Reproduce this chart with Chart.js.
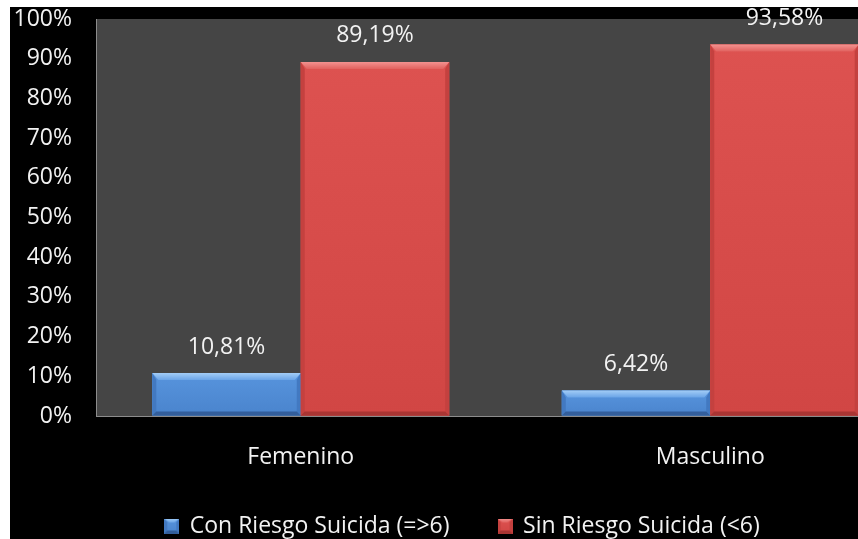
<!DOCTYPE html>
<html lang="es">
<head>
<meta charset="utf-8">
<title>Riesgo suicida por sexo</title>
<script src="https://cdn.jsdelivr.net/npm/chart.js@4.4.1/dist/chart.umd.min.js"></script>
<style>
  html, body { margin: 0; padding: 0; background: #fff; overflow: hidden; width: 858px; height: 539px; }
  #panel { position: absolute; left: 10px; top: 7px; width: 920px; height: 545px; background: #000; }
</style>
</head>
<body>
<div id="panel"><canvas id="grafico" width="920" height="545"></canvas></div>
<script>
// datos del gráfico
var categorias = ['Femenino', 'Masculino'];
var series = ['Con Riesgo Suicida (=>6)', 'Sin Riesgo Suicida (<6)'];
var conRiesgo = [10.81, 6.42];
var sinRiesgo = [89.19, 93.58];
var marcasEje = [0, 10, 20, 30, 40, 50, 60, 70, 80, 90, 100];

// colores de cada serie: cara, bisel claro, lados, base
var paleta = [
    { cara: ['#5794dd', '#4a84cd'], luz: ['#a2ccf6', '#6aa4e7'], lado: '#4279c1', sombra: '#335e9b' },
    { cara: ['#dd5250', '#d14644'], luz: ['#f39290', '#e1625f'], lado: '#c4413f', sombra: '#a93533' }
];

var fuente = "'Open Sans', sans-serif";

function poligono(ctx, pts, color) {
    ctx.beginPath();
    ctx.moveTo(pts[0][0], pts[0][1]);
    for (var i = 1; i < pts.length; i++) ctx.lineTo(pts[i][0], pts[i][1]);
    ctx.closePath();
    ctx.fillStyle = color;
    ctx.fill();
}

// barra con efecto de bisel
function bisel(ctx, l, r, t, b, col, tp, sd, bt) {
    var h = b - t;
    tp = Math.min(tp, h / 2);
    bt = Math.min(bt, h / 3);
    var g = ctx.createLinearGradient(0, t, 0, b);
    g.addColorStop(0, col.cara[0]);
    g.addColorStop(1, col.cara[1]);
    poligono(ctx, [[l, t], [r, t], [r, b], [l, b]], g);
    poligono(ctx, [[l, t], [l + sd, t + tp], [l + sd, b - bt], [l, b]], col.lado);
    poligono(ctx, [[r, t], [r - sd, t + tp], [r - sd, b - bt], [r, b]], col.lado);
    poligono(ctx, [[l, b], [l + sd, b - bt], [r - sd, b - bt], [r, b]], col.sombra);
    var gl = ctx.createLinearGradient(0, t, 0, t + tp);
    gl.addColorStop(0, col.luz[0]);
    gl.addColorStop(1, col.luz[1]);
    poligono(ctx, [[l, t], [r, t], [r - sd - 2, t + tp], [l + sd + 2, t + tp]], gl);
}

// marcador de la leyenda
function marcador(col) {
    var c = document.createElement('canvas');
    c.width = 15;
    c.height = 15;
    bisel(c.getContext('2d'), 0, 15, 0, 15, col, 4, 3, 3);
    return c;
}
var marcadores = paleta.map(marcador);

var fondoArea = {
    id: 'fondoArea',
    beforeDraw: function (chart) {
        var a = chart.chartArea, ctx = chart.ctx;
        ctx.save();
        ctx.fillStyle = '#454545';
        ctx.fillRect(a.left, a.top, a.right - a.left, a.bottom - a.top);
        ctx.restore();
    }
};

var barras3d = {
    id: 'barras3d',
    afterDatasetsDraw: function (chart) {
        var ctx = chart.ctx;
        ctx.save();
        chart.data.datasets.forEach(function (ds, i) {
            chart.getDatasetMeta(i).data.forEach(function (bar, j) {
                var p = bar.getProps(['x', 'y', 'base', 'width'], true);
                var l = p.x - p.width / 2, r = p.x + p.width / 2;
                bisel(ctx, l, r, p.y, p.base, paleta[i], 7, 4, 4);
                // valor encima de la barra
                ctx.fillStyle = '#f2f2f2';
                ctx.font = '23px ' + fuente;
                ctx.textAlign = 'center';
                ctx.textBaseline = 'middle';
                var txt = ds.data[j].toFixed(2).replace('.', ',') + '%';
                ctx.fillText(txt, p.x, p.y - 26);
            });
        });
        ctx.restore();
    }
};

// marcas invisibles para separar los rótulos de los ejes
var rejillaOculta = { display: true, drawOnChartArea: false, drawTicks: true, color: 'rgba(0,0,0,0)' };

var ctx = document.getElementById('grafico').getContext('2d');
var grafico = new Chart(ctx, {
    type: 'bar',
    data: {
        labels: categorias,
        datasets: [
            { label: series[0], data: conRiesgo, backgroundColor: paleta[0].cara[0] },
            { label: series[1], data: sinRiesgo, backgroundColor: paleta[1].cara[0] }
        ]
    },
    options: {
        responsive: false,
        animation: false,
        devicePixelRatio: 1,
        categoryPercentage: 0.725,
        barPercentage: 1,
        layout: { padding: { top: 12, right: 15, bottom: 4.5, left: 0 } },
        scales: {
            x: {
                grid: Object.assign({ tickLength: 28 }, rejillaOculta),
                border: { display: true, color: '#8c8c8c', width: 1 },
                ticks: { color: '#f2f2f2', font: { family: fuente, size: 23 }, padding: 0 },
                afterFit: function (s) { s.height = 49.5; }
            },
            y: {
                min: 0,
                max: 100,
                grid: Object.assign({ tickLength: 24 }, rejillaOculta),
                border: { display: true, color: '#8c8c8c', width: 1 },
                afterBuildTicks: function (s) {
                    s.ticks = marcasEje.map(function (v) { return { value: v }; });
                },
                ticks: {
                    color: '#f2f2f2',
                    font: { family: fuente, size: 23, lineHeight: 1 },
                    padding: 0,
                    callback: function (v) { return v + '%'; }
                },
                afterFit: function (s) { s.width = 86; }
            }
        },
        plugins: {
            tooltip: { enabled: false },
            legend: {
                position: 'bottom',
                labels: {
                    color: '#f2f2f2',
                    font: { family: fuente, size: 23 },
                    usePointStyle: true,
                    boxWidth: 13,
                    boxHeight: 15,
                    padding: 49,
                    generateLabels: function (chart) {
                        var items = Chart.defaults.plugins.legend.labels.generateLabels(chart);
                        items.forEach(function (it, i) { it.pointStyle = marcadores[i]; });
                        return items;
                    }
                }
            }
        }
    },
    plugins: [fondoArea, barras3d]
});
</script>
</body>
</html>
